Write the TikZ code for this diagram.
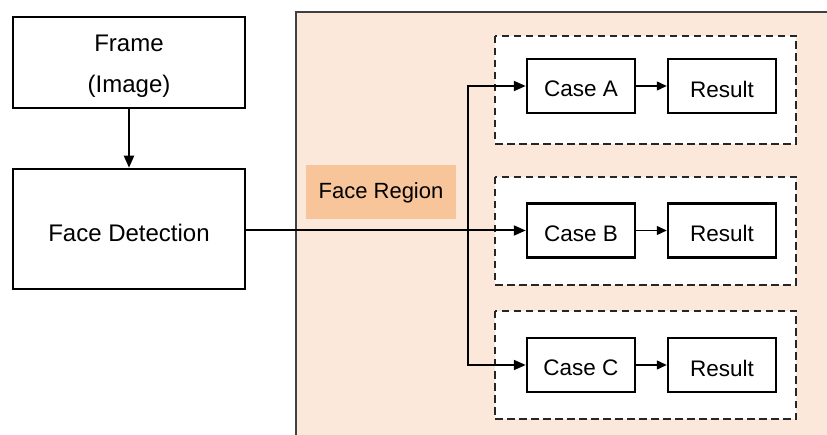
\documentclass[tikz,border=0pt]{standalone}
\usepackage{fontspec}
\setmainfont{Liberation Sans}
\usetikzlibrary{arrows.meta}
\definecolor{panelfill}{HTML}{FCE8DA}
\definecolor{panelline}{HTML}{404040}
\definecolor{tagfill}{HTML}{F8C49A}
\tikzset{
  blockbox/.style={draw=black, line width=2.5pt, fill=white, minimum width=232pt, inner sep=0pt},
  casebox/.style={draw=black, line width=2.5pt, fill=white, minimum width=108pt,
    minimum height=54pt, inner sep=0pt},
  bigtext/.style={align=center, font=\fontsize{24}{41}\selectfont, inner sep=0pt, yshift=-4pt},
  casetext/.style={font=\fontsize{22.5}{26}\selectfont, inner sep=0pt, yshift=-3pt},
  groupbox/.style={draw=black!85, line width=1.5pt, dash pattern=on 7.5pt off 4.5pt, fill=white},
  link/.style={line width=2pt, -{Triangle[length=12pt, width=10pt]}},
  smalllink/.style={line width=1.4pt, -{Triangle[length=10pt, width=9pt]}},
}
\begin{document}
\begin{tikzpicture}[x=1pt, y=-1pt]
\useasboundingbox (0,0) rectangle (827,435);
% region panel, open at the right and bottom
\fill[panelfill] (296,12) rectangle (827,435);
\draw[panelline, line width=1.6pt] (296,435) -- (296,12) -- (827,12);
% dashed group boxes
\draw[groupbox] (495,36) rectangle (796,144);
\draw[groupbox] (495,177) rectangle (796,285);
\draw[groupbox] (495,311) rectangle (796,419);
% left column
\node[blockbox, minimum height=91pt] (frame) at (129,62.5) {};
\node[bigtext] (frametext) at (frame.center) {Frame\\(Image)};
\node[blockbox, minimum height=120pt] (detect) at (129,229) {};
\node[bigtext] (detecttext) at (detect.center) {Face Detection};
% face region tag
\node[fill=tagfill, minimum width=150pt, minimum height=54pt, inner sep=0pt] (tag) at (381,192) {};
\node[casetext, font=\fontsize{22}{26}\selectfont, yshift=2pt] (tagtext) at (tag.center) {Face Region};
% cases and results
\node[casebox] (caseA) at (581,86) {};
\node[casebox] (resA) at (722,86) {};
\node[casebox] (caseB) at (581,230.5) {};
\node[casebox] (resB) at (722,230.5) {};
\node[casebox] (caseC) at (581,365) {};
\node[casebox] (resC) at (722,365) {};
\node[casetext] (caseAtext) at (caseA.center) {Case A};
\node[casetext] (resAtext) at (resA.center) {Result};
\node[casetext] (caseBtext) at (caseB.center) {Case B};
\node[casetext] (resBtext) at (resB.center) {Result};
\node[casetext] (caseCtext) at (caseC.center) {Case C};
\node[casetext] (resCtext) at (resC.center) {Result};
\coordinate (split) at (468,230.5);
% connectors
\draw[link] (frame.south) -- (detect.north);
\draw[link] (detect.east |- caseB.west) -- (caseB.west);
\draw[link] (split) |- (caseA.west);
\draw[link] (split) |- (caseC.west);
\draw[smalllink] (caseA) -- (resA);
\draw[smalllink] (caseB) -- (resB);
\draw[smalllink] (caseC) -- (resC);
\end{tikzpicture}
\end{document}
